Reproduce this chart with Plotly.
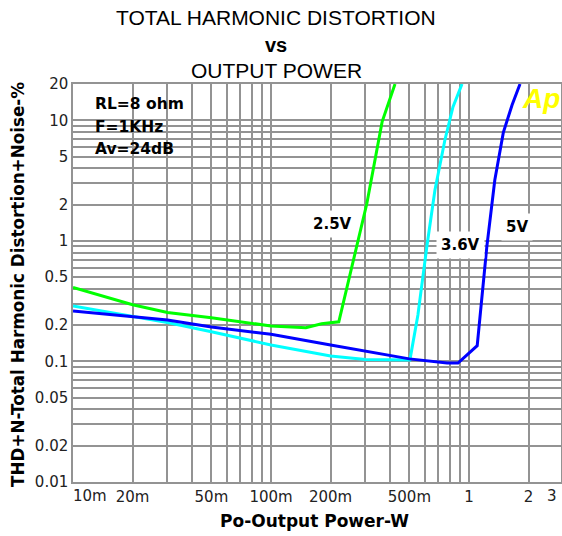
import plotly.graph_objects as go

# ---------------- data ----------------
x_25v = [0.01, 0.02, 0.03, 0.05, 0.1, 0.15, 0.18, 0.22, 0.305, 0.364, 0.423]
y_25v = [0.41, 0.295, 0.255, 0.23, 0.197, 0.19, 0.205, 0.213, 2.05, 9.7, 20]

x_36v = [0.01, 0.02, 0.03, 0.05, 0.1, 0.2, 0.3, 0.503, 0.552, 0.614, 0.673, 0.756, 0.83, 0.922]
y_36v = [0.288, 0.234, 0.21, 0.176, 0.137, 0.111, 0.104, 0.103, 0.243, 0.925, 2.64, 6.9, 12.9, 20]

x_5v = [0.01, 0.02, 0.03, 0.05, 0.1, 0.2, 0.5, 0.775, 0.88, 1.10, 1.23, 1.35, 1.49, 1.65, 1.81]
y_5v = [0.262, 0.235, 0.221, 0.193, 0.168, 0.137, 0.105, 0.097, 0.097, 0.135, 0.89, 3.2, 7.9, 13.4, 20]

series_names = ["2.5V", "3.6V", "5V"]
series_colors = ["#00ff00", "#00ffff", "#0000ff"]

x_grid = [0.01, 0.02, 0.03, 0.04, 0.05, 0.06, 0.07, 0.08, 0.09,
          0.1, 0.2, 0.3, 0.4, 0.5, 0.6, 0.7, 0.8, 0.9, 1, 2, 3]
x_labels = {0.02: "20m", 0.05: "50m", 0.1: "100m", 0.2: "200m", 0.5: "500m", 1: "1", 2: "2"}
y_grid = [0.01, 0.02, 0.03, 0.04, 0.05, 0.06, 0.07, 0.08, 0.09,
          0.1, 0.2, 0.3, 0.4, 0.5, 0.6, 0.7, 0.8, 0.9,
          1, 2, 3, 4, 5, 6, 7, 8, 9, 10, 20]
y_labels = {0.01: "0.01", 0.02: "0.02", 0.05: "0.05", 0.1: "0.1", 0.2: "0.2", 0.5: "0.5",
            1: "1", 2: "2", 5: "5", 10: "10", 20: "20"}

info_lines = ["RL=8 ohm", "F=1KHz", "Av=24dB"]

# ---------------- layout geometry (pixels) ----------------
W, H = 562, 536
L, R, T, B = 73, 561, 84, 482


def px(x):
    return (x - L) / (R - L)


def py(y):
    return (B - y) / (B - T)


fig = go.Figure()
for xs, ys, name, col in zip([x_25v, x_36v, x_5v], [y_25v, y_36v, y_5v], series_names, series_colors):
    fig.add_trace(go.Scatter(x=xs, y=ys, mode="lines", name=name,
                             line=dict(color=col, width=3), showlegend=False))

grid_col = "#939393"
tick_font = dict(family="DejaVu Sans", size=15, color="#222222")
bold = "DejaVu Sans"

fig.update_layout(
    width=W, height=H,
    margin=dict(l=L, r=W - R, t=T, b=H - B, pad=0),
    paper_bgcolor="white", plot_bgcolor="white",
    xaxis=dict(type="log", range=[-2, 0.4646], tickvals=x_grid,
               ticktext=[x_labels.get(v, "") for v in x_grid],
               showgrid=True, gridcolor=grid_col, gridwidth=1.5,
               showline=True, linecolor=grid_col, linewidth=1.5, mirror=True,
               ticks="", tickfont=tick_font, zeroline=False, automargin=False),
    yaxis=dict(type="log", range=[-2, 1.30103], tickvals=y_grid,
               ticktext=[y_labels.get(v, "") for v in y_grid],
               showgrid=True, gridcolor=grid_col, gridwidth=1.5,
               showline=True, linecolor=grid_col, linewidth=1.5, mirror=True,
               ticks="", tickfont=tick_font, zeroline=False, automargin=False),
)

# white info box covering grid
fig.add_shape(type="rect", xref="paper", yref="paper", layer="between",
              x0=px(L + 1), x1=px(192), y0=py(163), y1=py(T + 1),
              fillcolor="white", line=dict(width=0))

annotations = []
# title lines
annotations.append(dict(text="TOTAL HARMONIC DISTORTION", x=px(276), y=py(17.5),
                        font=dict(family="Liberation Sans", size=21, color="black")))
annotations.append(dict(text="vs", x=px(276), y=py(45),
                        font=dict(family="Liberation Sans", size=20, color="black", weight="bold")))
annotations.append(dict(text="OUTPUT POWER", x=px(276), y=py(71),
                        font=dict(family="Liberation Sans", size=21, color="black")))
# axis titles
annotations.append(dict(text="Po-Output Power-W", x=px(314), y=py(521),
                        font=dict(family=bold, size=17, color="black", weight="bold")))
annotations.append(dict(text="THD+N-Total Harmonic Distortion+Noise-%", x=px(18), y=py(285),
                        textangle=-90,
                        font=dict(family=bold, size=16.8, color="black", weight="bold")))
# extra tick labels
annotations.append(dict(text="10m", x=px(90), y=py(496), font=tick_font))
annotations.append(dict(text="3", x=px(552), y=py(496), font=tick_font))
# info text
for txt, yy in zip(info_lines, [104.5, 127, 149]):
    annotations.append(dict(text=txt, x=px(93), y=py(yy), xanchor="left",
                            font=dict(family=bold, size=15.5, color="black", weight="bold")))
# curve labels
for txt, xx, yy in zip(series_names, [332, 460, 517], [224, 245, 227]):
    annotations.append(dict(text=txt, x=px(xx), y=py(yy), bgcolor="white", borderpad=4,
                            font=dict(family=bold, size=15, color="black", weight="bold")))
# Ap logo
annotations.append(dict(text="Ap", x=px(541), y=py(98),
                        font=dict(family="Liberation Sans", size=28, color="#ffff00",
                                  weight="bold", style="italic")))

for a in annotations:
    a.setdefault("xanchor", "center")
    a.setdefault("yanchor", "middle")
    a.update(xref="paper", yref="paper", showarrow=False)
    fig.add_annotation(**a)

fig.write_html("out.html",
               config={"displayModeBar": False},
               post_script="document.body.style.margin='0';document.body.style.overflow='hidden';")
